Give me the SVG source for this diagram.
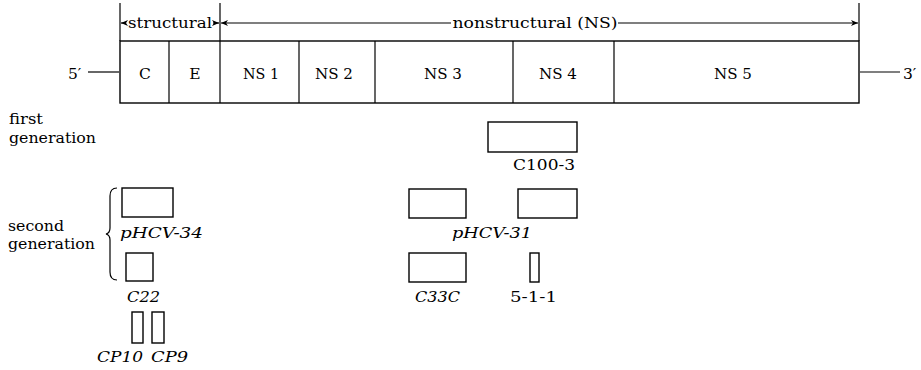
<svg xmlns="http://www.w3.org/2000/svg" width="921" height="370" viewBox="0 0 921 370">
<defs>
<marker id="ah" markerWidth="8" markerHeight="8" refX="7" refY="4" orient="auto" markerUnits="userSpaceOnUse">
<path d="M0,1 L7,4 L0,7 L2,4 Z" fill="#000"/>
</marker>
<style>
text{font-size:15.5px;fill:#000}
.c{text-anchor:middle}
.i{font-style:italic}
.box{fill:none;stroke:#000;stroke-width:1.4}
.ln{fill:none;stroke:#000;stroke-width:1.2}
</style>
</defs>
<rect width="921" height="370" fill="#fff"/>
<g font-family="'DejaVu Serif', 'Liberation Serif', serif">
<g id="genome">
<rect class="box" x="120" y="41" width="739" height="62"/>
<line class="ln" x1="169" y1="41" x2="169" y2="103"/>
<line class="ln" x1="220" y1="41" x2="220" y2="103"/>
<line class="ln" x1="299" y1="41" x2="299" y2="103"/>
<line class="ln" x1="375" y1="41" x2="375" y2="103"/>
<line class="ln" x1="513" y1="41" x2="513" y2="103"/>
<line class="ln" x1="614" y1="41" x2="614" y2="103"/>
<text class="c" x="145" y="79">C</text>
<text class="c" x="195" y="79">E</text>
<text class="c" x="261" y="79" textLength="36" lengthAdjust="spacingAndGlyphs">NS 1</text>
<text class="c" x="334" y="79" textLength="38" lengthAdjust="spacingAndGlyphs">NS 2</text>
<text class="c" x="443" y="79" textLength="38" lengthAdjust="spacingAndGlyphs">NS 3</text>
<text class="c" x="558" y="79" textLength="38" lengthAdjust="spacingAndGlyphs">NS 4</text>
<text class="c" x="733" y="79" textLength="38" lengthAdjust="spacingAndGlyphs">NS 5</text>
<line class="ln" x1="88" y1="72" x2="119" y2="72"/>
<line class="ln" x1="860" y1="72" x2="900" y2="72"/>
<text x="68" y="79">5′</text>
<text x="903" y="79">3′</text>
</g>
<g id="regions">
<line class="ln" x1="120" y1="3" x2="120" y2="41"/>
<line class="ln" x1="220" y1="3" x2="220" y2="41"/>
<line class="ln" x1="859" y1="3" x2="859" y2="41"/>
<text class="c" x="170" y="28" textLength="84" lengthAdjust="spacingAndGlyphs">structural</text>
<text class="c" x="535" y="28" textLength="165" lengthAdjust="spacingAndGlyphs">nonstructural (NS)</text>
</g>
<g id="connectors">
<line class="ln" x1="126" y1="23" x2="121" y2="23" marker-end="url(#ah)"/>
<line class="ln" x1="213" y1="23" x2="219" y2="23" marker-end="url(#ah)"/>
<line class="ln" x1="451" y1="23" x2="221" y2="23" marker-end="url(#ah)"/>
<line class="ln" x1="618" y1="23" x2="858" y2="23" marker-end="url(#ah)"/>
</g>
<g id="first-generation">
<text x="9" y="124" textLength="34" lengthAdjust="spacingAndGlyphs">first</text>
<text x="9" y="143" textLength="87" lengthAdjust="spacingAndGlyphs">generation</text>
</g>
<g id="c100-3">
<rect class="box" x="488" y="122" width="89" height="30"/>
<text x="513" y="170" textLength="62" lengthAdjust="spacingAndGlyphs">C100-3</text>
</g>
<g id="second-generation">
<text x="8" y="231" textLength="56" lengthAdjust="spacingAndGlyphs">second</text>
<text x="8" y="249" textLength="87" lengthAdjust="spacingAndGlyphs">generation</text>
<path class="ln" d="M117,188 Q110,188 110,196 L110,228 Q110,233 106,234 Q110,235 110,240 L110,272 Q110,280 117,280"/>
</g>
<g id="phcv-34">
<rect class="box" x="122" y="188" width="51" height="29"/>
<text class="i" x="120" y="238" textLength="83" lengthAdjust="spacingAndGlyphs">pHCV-34</text>
</g>
<g id="c22">
<rect class="box" x="126" y="253" width="27" height="28"/>
<text class="i" x="127" y="302" textLength="33" lengthAdjust="spacingAndGlyphs">C22</text>
</g>
<g id="cp10">
<rect class="box" x="132" y="312" width="11" height="31"/>
<text class="i" x="97" y="362" textLength="46" lengthAdjust="spacingAndGlyphs">CP10</text>
</g>
<g id="cp9">
<rect class="box" x="152" y="312" width="12" height="31"/>
<text class="i" x="151" y="362" textLength="37" lengthAdjust="spacingAndGlyphs">CP9</text>
</g>
<g id="phcv-31">
<rect class="box" x="409" y="189" width="57" height="29"/>
<rect class="box" x="518" y="189" width="59" height="29"/>
<text class="i" x="452" y="238" textLength="80" lengthAdjust="spacingAndGlyphs">pHCV-31</text>
</g>
<g id="c33c">
<rect class="box" x="409" y="253" width="57" height="29"/>
<text class="i" x="415" y="302" textLength="45" lengthAdjust="spacingAndGlyphs">C33C</text>
</g>
<g id="s5-1-1">
<rect class="box" x="530" y="253" width="9" height="29"/>
<text x="510" y="302" textLength="47" lengthAdjust="spacingAndGlyphs">5-1-1</text>
</g>
</g>
</svg>
